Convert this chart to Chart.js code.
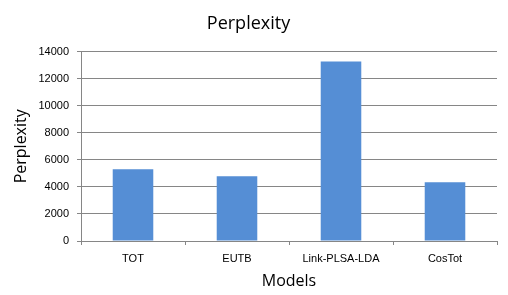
<!DOCTYPE html>
<html>
<head>
<meta charset="utf-8">
<script src="https://cdn.jsdelivr.net/npm/chart.js@4/dist/chart.umd.min.js"></script>
<style>
  html, body { margin: 0; padding: 0; background: #fff; }
  #wrap { width: 508px; height: 295px; }
</style>
</head>
<body>
<div id="wrap"><canvas id="chartPerplexity" width="508" height="295"></canvas></div>
<script>
// ==================== DADOS ====================
const modelos = ['TOT', 'EUTB', 'Link-PLSA-LDA', 'CosTot'];
const perplexidade = [5300, 4790, 13260, 4350];
const yTicks = [0, 2000, 4000, 6000, 8000, 10000, 12000, 14000];

const cinza = '#868686';

// ==================== GRAFICO DE PERPLEXIDADE ====================
const cxPerp = document.getElementById('chartPerplexity');
const chtPerp = new Chart(cxPerp, {
  type: 'bar',
  data: {
    labels: modelos,
    datasets: [
      {
        label: 'Perplexity',
        data: perplexidade,
        backgroundColor: '#558ed5',
        borderWidth: 0,
        barPercentage: 0.39,
        categoryPercentage: 1.0,
      },
    ]
  },
  options: {
    responsive: false,
    animation: false,
    layout: { padding: { left: 0, right: 11, top: 0, bottom: 0 } },
    scales: {
      y: {
        min: 0,
        max: 14000,
        afterBuildTicks: (axis) => { axis.ticks = yTicks.map(v => ({ value: v })); },
        afterFit: (axis) => { axis.width = 81; },
        ticks: {
          color: '#000',
          font: { family: 'Liberation Sans', size: 11 },
          padding: 8,
          callback: (v) => String(v),
        },
        grid: { color: cinza, lineWidth: 1, tickLength: 4 },
        border: { color: cinza },
        title: {
          display: true,
          text: 'Perplexity',
          color: '#000',
          font: { family: 'Open Sans', size: 16 },
          padding: { top: 12, bottom: 2 },
        },
      },
      x: {
        afterFit: (axis) => { axis.height = 54; },
        ticks: {
          color: '#000',
          font: { family: 'Liberation Sans', size: 11 },
          padding: 7,
        },
        grid: { drawOnChartArea: false, color: cinza, tickLength: 4, offset: true },
        border: { color: cinza },
        title: {
          display: true,
          text: 'Models',
          color: '#000',
          font: { family: 'Open Sans', size: 16 },
          padding: { top: 6 },
        },
      },
    },
    plugins: {
      legend: { display: false },
      tooltip: { enabled: false },
      title: {
        display: true,
        text: 'Perplexity',
        color: '#000',
        font: { family: 'Open Sans', size: 18, weight: 'normal' },
        padding: { top: 13, bottom: 17 },
      },
    },
  }
});
</script>
</body>
</html>
